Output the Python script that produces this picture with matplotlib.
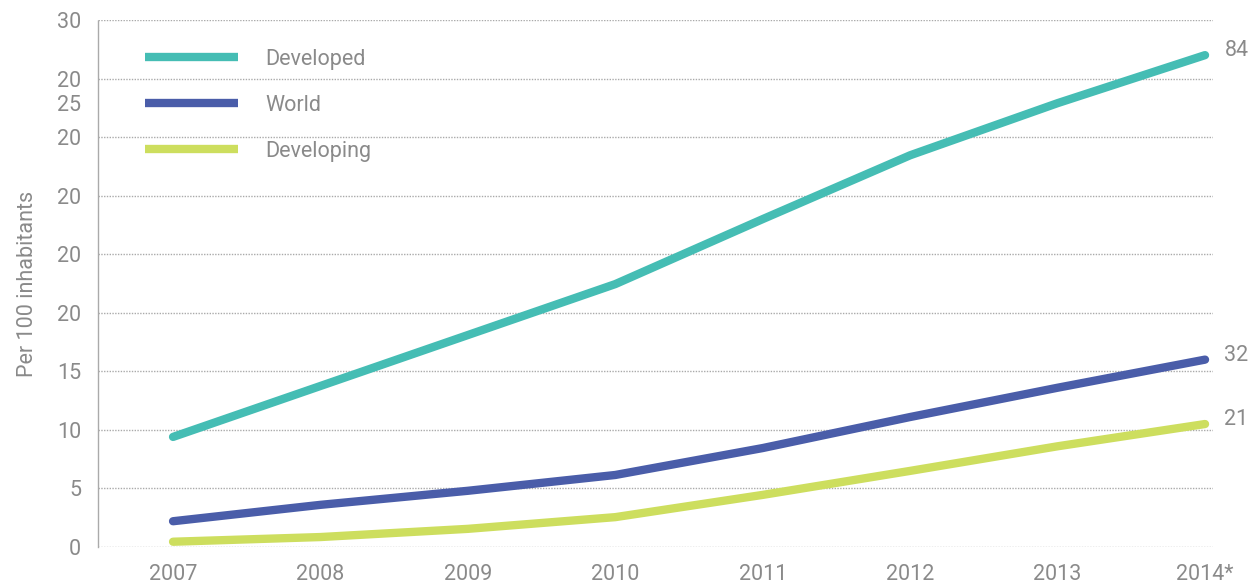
import matplotlib
matplotlib.use("Agg")
import matplotlib.pyplot as plt

years = [2007, 2008, 2009, 2010, 2011, 2012, 2013, 2014]
year_labels = ["2007", "2008", "2009", "2010", "2011", "2012", "2013", "2014*"]
developed = [18.8, 27.5, 36.2, 44.9, 56.0, 66.9, 75.8, 84.0]
world = [4.4, 7.2, 9.6, 12.3, 16.9, 22.2, 27.2, 32.0]
developing = [0.9, 1.7, 3.1, 5.1, 8.9, 13.0, 17.2, 21.0]
series_names = ["Developed", "World", "Developing"]
end_labels = ["84", "32", "21"]
ytick_pos = [0, 10, 20, 30, 40, 50, 60, 70, 80, 90]
ytick_labels = ["0", "5", "10", "15", "20", "20", "20", "20", "20", "30"]
extra_tick_pos = 75.8
extra_tick_label = "25"

colors = ["#45BDB4", "#4A5DA9", "#CDDE5E"]
gray = "#8a8a8a"
plt.rcParams['font.family'] = ['Roboto', 'DejaVu Sans']
FW = 'normal'
FS = 15.5

fig = plt.figure(figsize=(12.55, 5.87), dpi=100)
ax = fig.add_axes([98/1255, 40/587, 1115/1255, 527/587])

for vals, c, name in zip([developed, world, developing], colors, series_names):
    ax.plot(years, vals, color=c, lw=6, solid_capstyle='round', label=name)

ax.set_xlim(2006.491, 2014.054)
ax.set_ylim(0, 90)

for yv in ytick_pos:
    ax.axhline(yv, color="#aaaaaa", lw=1, ls=(0, (1, 1)), zorder=0)

ax.set_yticks(ytick_pos + [extra_tick_pos])
ax.set_yticklabels(ytick_labels + [extra_tick_label])
ax.set_xticks(years)
ax.set_xticklabels(year_labels)
ax.tick_params(axis='both', length=0, colors=gray, labelsize=FS)
ax.tick_params(axis='y', pad=12)
ax.tick_params(axis='x', pad=12)
for lab in ax.get_xticklabels() + ax.get_yticklabels():
    lab.set_fontweight(FW)

for s in ['top', 'right', 'bottom']:
    ax.spines[s].set_visible(False)
ax.spines['left'].set_color("#aaaaaa")
ax.spines['left'].set_linestyle((0, (1, 1)))
ax.spines['left'].set_linewidth(1)

ax.set_ylabel("Per 100 inhabitants", color=gray, fontsize=FS, fontweight=FW, labelpad=14)

for vals, lab in zip([developed, world, developing], end_labels):
    ax.annotate(lab, xy=(years[-1], vals[-1]), xytext=(14, 3), textcoords='offset points',
                color=gray, fontsize=FS, fontweight=FW, va='center', ha='left',
                annotation_clip=False)

leg = ax.legend(loc='upper left', bbox_to_anchor=(0.029, 0.974), frameon=False,
                fontsize=FS, handlelength=4.3, handletextpad=1.25, labelspacing=1.16,
                borderaxespad=0.3)
for t in leg.get_texts():
    t.set_color(gray)
    t.set_fontweight(FW)
for h in leg.get_lines():
    h.set_linewidth(6)
    h.set_solid_capstyle('butt')

fig.savefig("out.png", dpi=100)
